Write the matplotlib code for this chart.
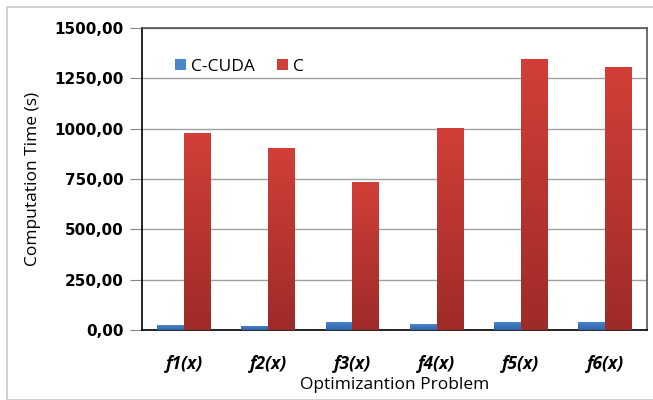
import numpy as np
import matplotlib
matplotlib.use('Agg')
from matplotlib import pyplot as plt
from matplotlib.patches import Rectangle

problems = ['f1(x)', 'f2(x)', 'f3(x)', 'f4(x)', 'f5(x)', 'f6(x)']
c_cuda = [23, 22, 41, 28, 41, 40]
c_seq = [979, 904, 735, 1003, 1346, 1306]
yticks = [0, 250, 500, 750, 1000, 1250, 1500]

fig = plt.figure(figsize=(6.53, 4.00), dpi=100)
fig.patches.append(Rectangle((0.011, 0.0), 0.99, 0.982, transform=fig.transFigure,
                             fill=False, edgecolor='#c8c8c8', linewidth=1.2))
ax = fig.add_axes([0.2175, 0.175, 0.7735, 0.755])

x = np.arange(len(problems))
w = 0.32

def grad_bars(xs, vals, top, bottom, label):
    bars = ax.bar(xs, vals, w, color=top, label=label, zorder=3, linewidth=0)
    grad = np.linspace(0, 1, 256).reshape(-1, 1)
    cmap = matplotlib.colors.LinearSegmentedColormap.from_list('g', [bottom, top])
    for b in bars:
        bx, by = b.get_x(), b.get_y()
        im = ax.imshow(grad, extent=[bx, bx + b.get_width(), by, by + b.get_height()],
                       origin='lower', cmap=cmap, aspect='auto', zorder=3)
        im.set_clip_path(b)
    return bars

grad_bars(x - w / 2, c_cuda, '#4a86d0', '#2f64a8', 'C-CUDA')
grad_bars(x + w / 2, c_seq, '#d23f38', '#9e2b28', 'C')

ax.set_xlim(-0.5, len(problems) - 0.5)
ax.set_ylim(0, 1500)
ax.set_yticks(yticks)
ax.set_yticklabels(['%d,00' % v for v in yticks], fontsize=11, fontweight='bold',
                   family='DejaVu Sans')
ax.set_xticks(x)
ax.set_xticklabels(problems, fontsize=12.5, fontweight='bold', style='italic',
                   family='Open Sans')
ax.tick_params(axis='x', length=0, pad=18)
ax.tick_params(axis='y', length=9, width=0.8, color='#888888', pad=4)
ax.yaxis.grid(True, color='#a0a0a0', linewidth=1.0, zorder=0)
ax.set_axisbelow(True)
for s in ['left', 'bottom']:
    ax.spines[s].set_color('black')
    ax.spines[s].set_linewidth(1.2)
for s in ['top', 'right']:
    ax.spines[s].set_color('#555555')
    ax.spines[s].set_linewidth(1.2)

ax.set_ylabel('Computation Time (s)', fontsize=12.5, family='Open Sans', labelpad=10)
ax.set_xlabel('Optimizantion Problem', fontsize=12.5, family='Open Sans', labelpad=3)

ax.legend(loc='upper left', bbox_to_anchor=(0.035, 0.95), ncol=2, frameon=False,
          prop={'family': 'Open Sans', 'size': 12.5}, handlelength=0.6,
          handleheight=0.6, columnspacing=1.3, handletextpad=0.3)

fig.savefig('out.png', dpi=100)
